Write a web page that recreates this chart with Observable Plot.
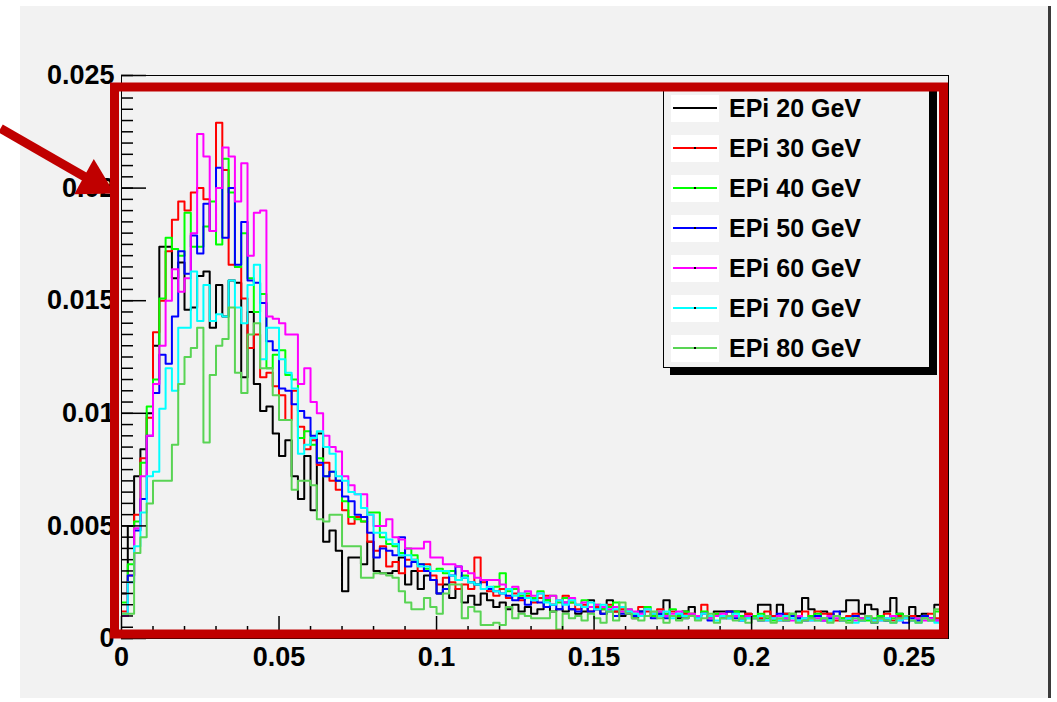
<!DOCTYPE html>
<html>
<head>
<meta charset="utf-8">
<script src="https://cdn.jsdelivr.net/npm/d3@7"></script>
<script src="https://cdn.jsdelivr.net/npm/@observablehq/plot@0.6"></script>
<style>
html, body { margin: 0; padding: 0; background: #ffffff; }
#wrap { position: relative; width: 1057px; height: 702px; overflow: hidden; font-family: "Liberation Sans", Arial, sans-serif; }
#canvas { position: absolute; left: 20px; top: 6px; width: 1028px; height: 692px; background: #f2f2f2; border-right: 3px solid #3a3a3a; }
#chart, #overlay { position: absolute; left: 0; top: 0; }
#overlay { pointer-events: none; }
#legend { position: absolute; left: 663px; top: 84px; width: 265px; height: 282px; background: #f2f2f2; border: 1px solid #000; box-shadow: 7px 7px 0 #000; }
.sw { position: absolute; left: 7px; width: 48px; height: 27px; background: #ffffff; }
.ln { position: absolute; left: 2px; right: 2px; top: 12.5px; height: 2px; }
.dt { position: absolute; left: 23px; top: 12.5px; width: 2px; height: 2px; background: #000; }
.lab { position: absolute; left: 65px; font-weight: bold; font-size: 25px; line-height: 28px; color: #000; white-space: nowrap; }
</style>
</head>
<body>
<div id="wrap">
  <div id="canvas"></div>
  <div id="chart"></div>
  <div id="legend"></div>
  <div id="overlay"></div>
</div>
<script>
// ---- data (bin contents in units of 1e-4, bin width 0.002, starting at 0) ----
const binWidth = 0.002;
const unit = 1e-4;

const seriesNames = ["EPi 20 GeV", "EPi 30 GeV", "EPi 40 GeV", "EPi 50 GeV", "EPi 60 GeV", "EPi 70 GeV", "EPi 80 GeV"];
const seriesColors = ["#000000", "#ff0000", "#00ff00", "#0000ff", "#ff00ff", "#00ffff", "#59d454"];

const epi20 = [20,50,72,84,100,130,174,174,160,167,
  146,147,161,163,138,157,143,159,158,116,
  145,113,101,103,91,81,88,72,62,81,
  57,91,43,48,39,21,36,36,33,43,
  30,29,29,30,36,24,30,22,28,26,
  20,24,18,22,16,19,15,20,17,14,
  16,13,15,12,14,11,13,17,12,13,
  12,13,11,12,17,13,11,17,12,10,
  11,9,12,10,11,11,17,10,9,12,
  14,10,11,10,12,12,12,12,12,11,
  10,15,15,10,15,11,10,12,18,13,
  10,12,11,10,12,17,17,11,15,13,
  10,12,18,11,10,14,10,11,9,15,11];

const epi30 = [12,28,55,80,98,136,150,172,186,194,
  190,198,200,195,181,229,208,166,165,151,
  129,135,116,118,112,108,97,110,94,84,
  88,77,78,70,66,57,51,54,52,43,
  39,41,32,34,29,35,35,30,33,28,
  24,27,25,22,24,22,36,25,21,19,
  22,18,20,17,19,16,18,19,15,17,
  19,16,13,15,12,14,13,15,12,13,
  12,11,14,12,10,13,11,12,10,11,
  11,10,15,9,11,10,12,10,9,11,
  10,9,12,10,8,11,10,9,12,10,
  12,11,11,8,9,10,11,9,10,8,
  9,11,8,10,9,10,8,9,11,9,10];

const epi40 = [16,33,52,78,103,115,151,178,173,170,
  189,174,174,183,194,175,213,198,165,180,
  160,145,153,120,126,128,117,115,89,92,
  86,80,72,74,70,61,54,53,52,56,
  56,45,42,41,38,40,37,33,31,30,
  31,29,30,26,28,25,24,26,22,23,
  29,21,22,19,20,18,21,17,19,16,
  18,16,15,17,14,15,13,14,16,12,
  13,11,12,14,10,12,11,13,10,12,
  11,10,12,9,11,10,9,12,10,9,
  10,11,9,8,10,9,11,8,9,10,
  11,9,8,10,9,8,10,9,8,9,
  10,8,9,11,9,8,9,10,8,12,9];

const epi50 = [10,28,48,62,90,109,126,122,143,172,
  162,179,171,193,181,209,178,200,166,185,
  159,158,149,132,128,111,110,104,101,98,
  90,78,72,74,70,63,61,55,54,47,
  36,40,39,37,45,32,34,33,30,26,
  20,22,28,32,27,25,24,26,22,21,
  20,19,17,18,15,17,16,14,15,13,
  16,13,12,14,12,13,11,12,10,11,
  11,10,12,10,9,11,9,10,11,9,
  10,9,11,8,10,9,12,9,8,10,
  9,8,10,9,11,8,10,9,8,9,
  10,8,9,12,8,9,10,8,9,7,
  9,8,10,9,7,9,8,10,9,8,9];

const epi60 = [10,25,49,72,90,113,130,150,164,154,
  160,180,224,214,181,200,218,214,194,211,
  170,189,190,143,142,140,135,135,113,120,
  105,100,90,85,83,72,68,64,64,55,
  50,50,53,45,44,40,40,40,43,36,
  36,33,33,32,30,29,27,26,26,26,
  24,22,23,20,21,19,20,18,19,17,
  16,18,15,16,14,15,14,13,14,12,
  13,12,11,13,11,12,10,11,12,10,
  11,10,11,9,10,11,9,10,9,10,
  9,10,8,9,10,9,8,10,9,8,
  9,8,10,9,8,9,8,9,10,8,
  8,9,10,8,9,8,9,8,9,8,10];

const epi70 = [11,25,41,56,72,74,102,120,110,138,
  138,163,141,157,141,144,143,159,147,140,
  157,166,124,138,138,124,118,111,82,86,
  89,92,85,82,72,70,65,64,58,55,
  47,47,44,42,37,37,35,32,32,30,
  30,30,28,26,27,25,24,22,23,21,
  20,22,19,20,18,17,20,16,15,17,
  15,17,15,14,16,13,15,12,13,14,
  12,11,10,13,11,10,12,9,11,10,
  10,9,11,10,8,10,9,11,8,9,
  9,10,8,9,8,10,9,8,9,8,
  8,9,8,10,8,9,7,8,9,8,
  8,9,7,8,9,8,7,9,8,7,8];

const epi80 = [11,11,38,45,60,70,70,70,86,113,
  125,129,138,87,117,130,133,147,118,109,
  135,140,120,120,108,97,97,66,70,70,
  68,53,52,55,55,41,41,41,27,27,
  29,29,28,27,21,16,13,13,18,14,
  11,20,24,24,9,14,12,6,6,7,
  6,14,9,11,10,9,9,9,12,4,
  11,9,10,8,11,9,7,12,8,16,
  11,9,8,10,12,9,7,10,8,9,
  10,8,9,11,7,9,10,8,9,7,
  9,8,10,7,9,8,11,7,8,9,
  8,9,7,10,8,7,9,8,10,7,
  9,8,7,9,10,8,7,9,8,13,9];

const seriesValues = [epi20, epi30, epi40, epi50, epi60, epi70, epi80];

const xDomain = [0, 0.2625];
const yDomain = [0, 0.025];
const xMajorTicks = [0, 0.05, 0.1, 0.15, 0.2, 0.25];
const xMinorTicks = [0.01,0.02,0.03,0.04,0.06,0.07,0.08,0.09,0.11,0.12,0.13,0.14,0.16,0.17,0.18,0.19,0.21,0.22,0.23,0.24,0.26];
const yMajorTicks = [0, 0.005, 0.01, 0.015, 0.02, 0.025];
const yMinorTicks = d3.range(0, 51).map(i => i * 0.0005);

// annotation arrow (data units), drawn like the hand-added red arrow
const arrowAnnotation = [{x1: -0.0384, y1: 0.02265, x2: -0.00867, y2: 0.02026}];

// ---- build table ----
const rows = [];
seriesValues.forEach((vals, k) => {
  vals.forEach((v, i) => rows.push({x: i * binWidth, y: v * unit, s: seriesNames[k]}));
  rows.push({x: vals.length * binWidth, y: vals[vals.length - 1] * unit, s: seriesNames[k]});
});

const fmt = d3.format("~g");
const common = {
  width: 1057, height: 702,
  marginLeft: 121, marginRight: 109, marginTop: 75, marginBottom: 64,
  style: {background: "transparent", overflow: "visible", color: "#000", fontFamily: "Liberation Sans, Arial, sans-serif"}
};

const chart = Plot.plot({
  ...common,
  x: {domain: xDomain},
  y: {domain: yDomain},
  color: {domain: seriesNames, range: seriesColors},
  marks: [
    Plot.lineY(rows, {x: "x", y: "y", z: "s", stroke: "s", curve: "step-after", strokeWidth: 2, clip: true}),
    Plot.frame({stroke: "#000", strokeWidth: 1}),
    Plot.axisY(yMinorTicks, {anchor: "left", tickSize: -12, strokeWidth: 1.5, tickFormat: () => "", label: null}),
    Plot.axisY(yMajorTicks, {anchor: "left", tickSize: -25, strokeWidth: 1.5, tickPadding: 32, tickFormat: fmt, fontSize: 27, fontWeight: "bold", label: null}),
    Plot.axisX(xMinorTicks, {anchor: "bottom", tickSize: -12, strokeWidth: 1.5, tickFormat: () => "", label: null}),
    Plot.axisX(xMajorTicks, {anchor: "bottom", tickSize: -22, strokeWidth: 1.5, tickPadding: 30, tickFormat: fmt, fontSize: 27, fontWeight: "bold", label: null})
  ]
});
document.getElementById("chart").appendChild(chart);

const overlay = Plot.plot({
  ...common,
  x: {domain: xDomain, axis: null},
  y: {domain: yDomain, axis: null},
  marks: [
    Plot.frame({stroke: "#c00000", strokeWidth: 9, insetLeft: -7, insetTop: 11.5, insetRight: 5, insetBottom: 4.5}),
    Plot.link(arrowAnnotation, {x1: "x1", y1: "y1", x2: "x2", y2: "y2", stroke: "#c00000", strokeWidth: 9}),
    Plot.dot(arrowAnnotation, {x: "x2", y: "y2", symbol: "triangle", r: 15, rotate: 119, fill: "#c00000", stroke: "none"})
  ]
});
document.getElementById("overlay").appendChild(overlay);

// ---- legend ----
const legend = document.getElementById("legend");
seriesNames.forEach((name, k) => {
  const cy = 108 + 40 * k - 85; // relative to legend inner box
  const sw = document.createElement("div");
  sw.className = "sw";
  sw.style.top = (cy - 13.5) + "px";
  const ln = document.createElement("div");
  ln.className = "ln";
  ln.style.background = seriesColors[k];
  sw.appendChild(ln);
  if (k > 0) { const dt = document.createElement("div"); dt.className = "dt"; sw.appendChild(dt); }
  legend.appendChild(sw);
  const lab = document.createElement("div");
  lab.className = "lab";
  lab.style.top = (cy - 14) + "px";
  lab.textContent = name;
  legend.appendChild(lab);
});
</script>
</body>
</html>
